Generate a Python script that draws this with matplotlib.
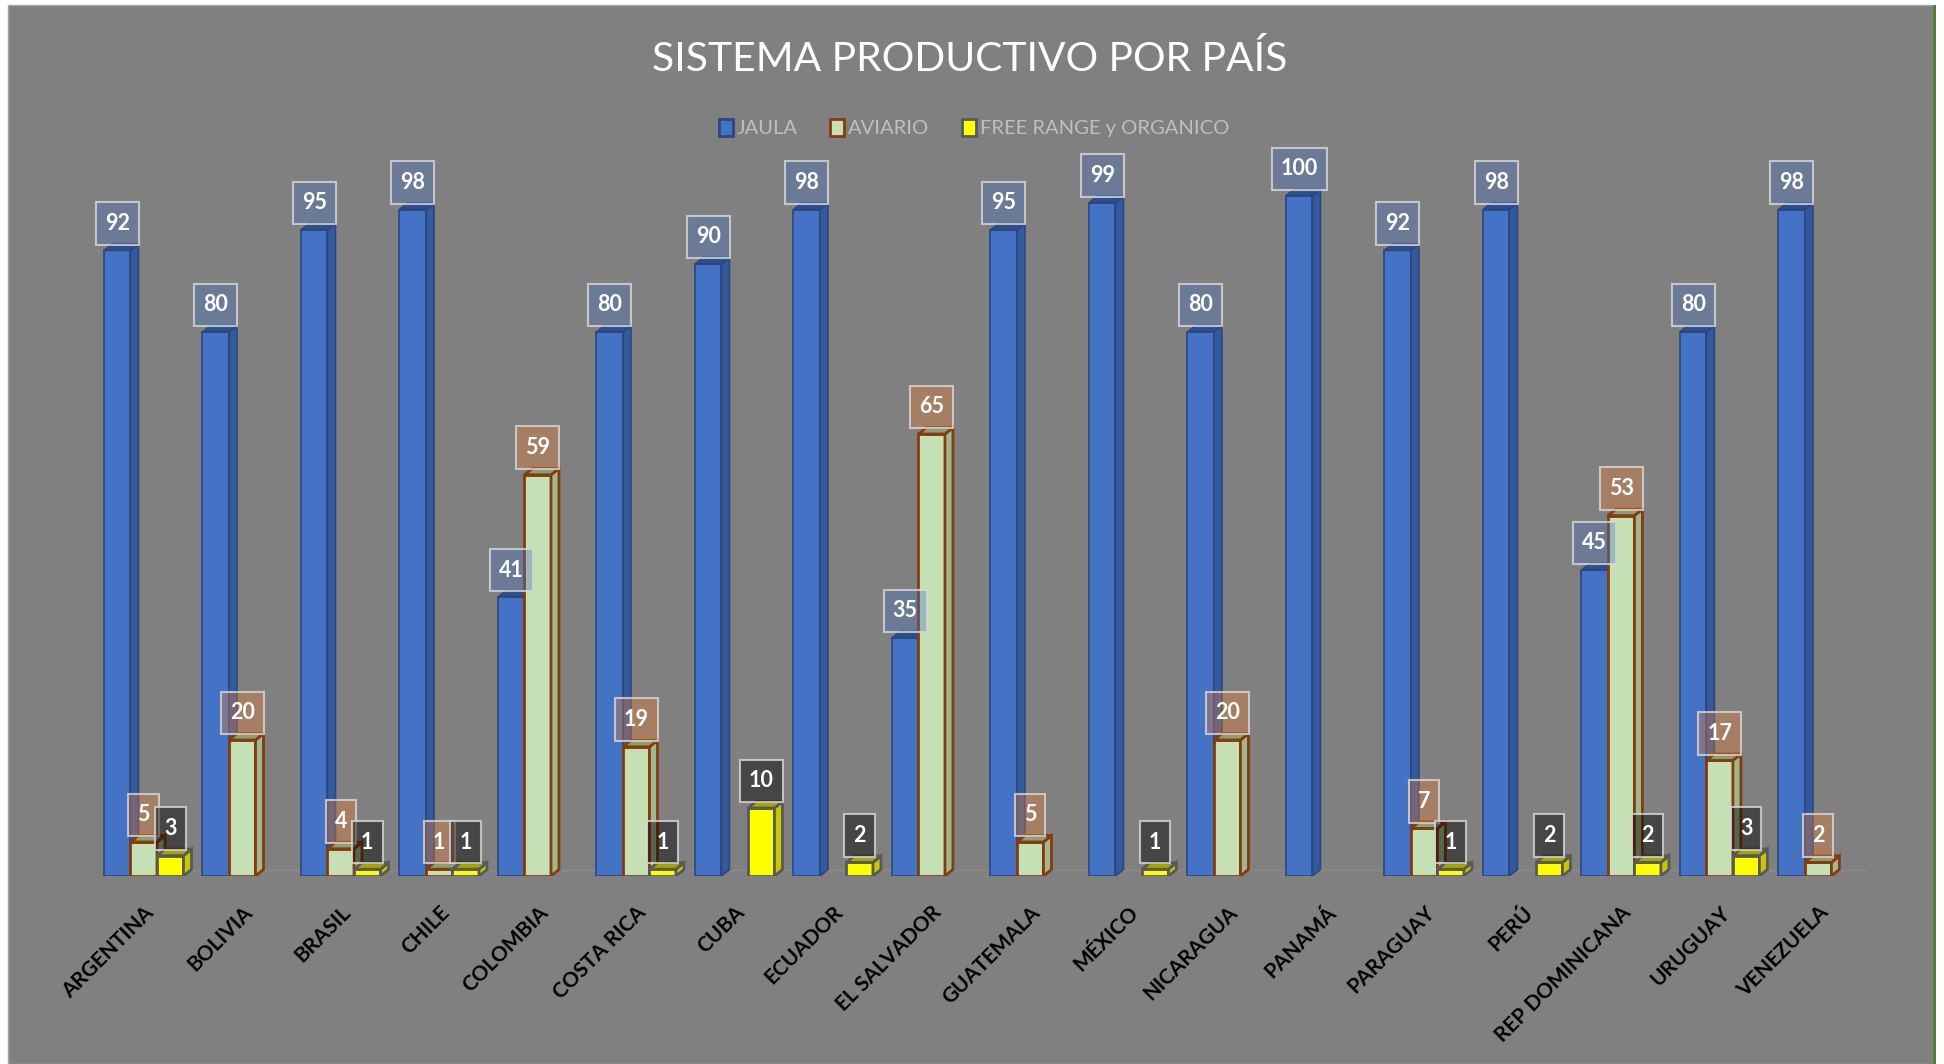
import numpy as np
import matplotlib.pyplot as plt
from matplotlib.patches import Polygon, Patch, Rectangle

countries = ["ARGENTINA", "BOLIVIA", "BRASIL", "CHILE", "COLOMBIA", "COSTA RICA",
             "CUBA", "ECUADOR", "EL SALVADOR", "GUATEMALA", "MÉXICO", "NICARAGUA",
             "PANAMÁ", "PARAGUAY", "PERÚ", "REP DOMINICANA", "URUGUAY", "VENEZUELA"]
jaula = [92, 80, 95, 98, 41, 80, 90, 98, 35, 95, 99, 80, 100, 92, 98, 45, 80, 98]
aviario = [5, 20, 4, 1, 59, 19, None, None, 65, 5, None, 20, None, 7, None, 53, 17, 2]
free_range = [3, None, 1, 1, None, 1, 10, 2, None, None, 1, None, None, 1, 2, 2, 3, None]

series_names = ["JAULA", "AVIARIO", "FREE RANGE y ORGANICO"]

plt.rcParams['font.family'] = ['Lato', 'DejaVu Sans']

W, H = 1944, 1064
fig = plt.figure(figsize=(W / 100, H / 100), dpi=100, facecolor='white')

# gray chart area with the thin green line on the right
fig.patches.append(Rectangle((8 / W, 0), (1933 - 8) / W, (H - 5) / H, transform=fig.transFigure,
                             facecolor='#808080', edgecolor='#a6a6a6', linewidth=1, zorder=-10))
fig.patches.append(Rectangle((1933 / W, 0), 3 / W, (H - 5) / H, transform=fig.transFigure,
                             facecolor='#548235', edgecolor='none', zorder=-10))

# axes placed so that baseline is at y=876 px and 1 unit = 6.8 px
x_left, x_right = 94.5, 1867.4
base_px, top_px = 876, 150
ax = fig.add_axes([x_left / W, (H - base_px) / H, (x_right - x_left) / W, (base_px - top_px) / H])
ax.set_xlim(-0.5, 17.5)
ax.set_ylim(0, (base_px - top_px) / 6.8)
ax.set_facecolor('none')
for s in ax.spines.values():
    s.set_visible(False)
ax.set_yticks([])

x = np.arange(len(countries))
bw = 0.269
DX = 8 / 98.5
DY = 6.5 / 6.8

styles = [
    # face, side, top, edge, lw, label box colour
    ('#4472c4', '#345a9e', '#2e4f8a', '#2b4680', 1.2, (0.267, 0.447, 0.769, 0.35)),
    ('#c5e0b4', '#9fb890', '#87a07a', '#843c0c', 2.0, (0.929, 0.490, 0.192, 0.35)),
    ('#ffff00', '#c8c800', '#a6a600', '#595959', 2.0, (0.0, 0.0, 0.0, 0.45)),
]


def draw_series(xs, vals, st, z):
    face, side, top, edge, lw, _ = st
    v = np.array([np.nan if a is None else a for a in vals], dtype=float)
    ax.bar(xs, v, width=bw, color=face, edgecolor=edge, linewidth=lw, zorder=z)
    for xi, hi in zip(xs, v):
        if np.isnan(hi):
            continue
        l, r = xi - bw / 2, xi + bw / 2
        ax.add_patch(Polygon([(r, 0), (r + DX, DY), (r + DX, hi + DY), (r, hi)], closed=True,
                             facecolor=side, edgecolor=edge, linewidth=lw, zorder=z))
        ax.add_patch(Polygon([(l, hi), (r, hi), (r + DX, hi + DY), (l + DX, hi + DY)], closed=True,
                             facecolor=top, edgecolor=edge, linewidth=lw, zorder=z))
    return v


offsets = [-bw, 0, bw]
all_vals = [jaula, aviario, free_range]
drawn = []
for k in range(3):
    drawn.append(draw_series(x + offsets[k], all_vals[k], styles[k], 2 + k))

# faint floor edge
ax.plot([-0.42 + DX, 17.42 + DX], [DY, DY], color='#8c8c8c', lw=1, zorder=1)

# data labels
for k in range(3):
    for xi, v in zip(x + offsets[k], drawn[k]):
        if np.isnan(v):
            continue
        ax.annotate(f"{int(v)}", xy=(xi, v), xytext=(0, 19.5), textcoords='offset points',
                    ha='center', va='center', fontsize=15.5, fontweight='bold', color='white',
                    zorder=10,
                    bbox=dict(boxstyle='square,pad=0.42', mutation_aspect=1.2,
                              facecolor=styles[k][5],
                              edgecolor=(0.85, 0.85, 0.85, 0.8), linewidth=1.5))

ax.set_xticks(x, countries, rotation=45, ha='right', rotation_mode='anchor',
              fontsize=15, fontweight='bold', color='black')
ax.tick_params(axis='x', length=0, pad=19)

fig.text(970 / W, 1 - 71 / H, "SISTEMA PRODUCTIVO POR PAÍS", ha='center', va='baseline',
         fontsize=29.3, color='white')

handles = [Patch(facecolor=st[0], edgecolor=st[3], linewidth=2) for st in styles]
fig.legend(handles, series_names, loc='center', bbox_to_anchor=(974 / W, 1 - 128 / H), ncol=3,
           frameon=False, fontsize=14.5, labelcolor='#bfbfbf', handlelength=0.7, handleheight=0.9,
           handletextpad=0.2, columnspacing=1.6)

fig.savefig('out.png', dpi=100, facecolor='white')
